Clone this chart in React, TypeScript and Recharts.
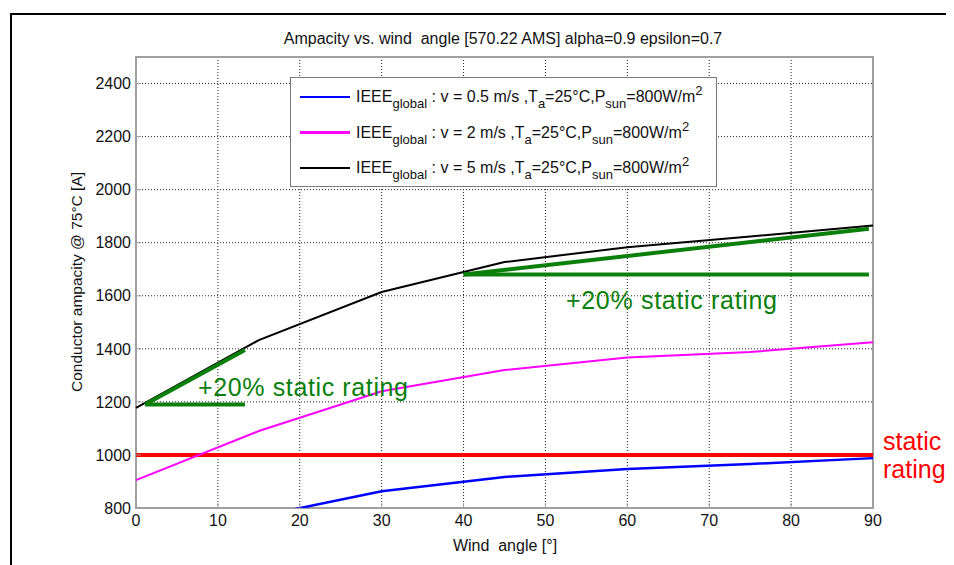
import React from 'react';
import {
  ComposedChart,
  Line,
  XAxis,
  YAxis,
  CartesianGrid,
  ReferenceLine,
  ReferenceArea,
} from 'recharts';

// ---- data ----
const windAngles = [0, 15, 30, 45, 60, 75, 90];
const ampacityV05 = [560, 768, 863, 917, 947, 966, 988];
const ampacityV2 = [905, 1090, 1240, 1320, 1367, 1388, 1425];
const ampacityV5 = [1177, 1433, 1614, 1727, 1783, 1823, 1865];
const staticRating = 1000;
const xTicks = [0, 10, 20, 30, 40, 50, 60, 70, 80, 90];
const yTicks = [800, 1000, 1200, 1400, 1600, 1800, 2000, 2200, 2400];
const leftMarker = { xStart: 1.1, xEnd: 13.3, base: 1190, top: 1396 };
const rightMarker = { xStart: 40, xEnd: 89.5, base: 1680, top: 1853 };

const titleText = 'Ampacity vs. wind  angle [570.22 AMS] alpha=0.9 epsilon=0.7';
const xLabel = 'Wind  angle [°]';
const yLabel = 'Conductor ampacity @ 75°C [A]';
const markerLabel = '+20% static rating';

const legendItems = [
  { color: '#0000ff', speed: '0.5' },
  { color: '#ff00ff', speed: '2' },
  { color: '#000000', speed: '5' },
];

const data = windAngles.map((angle, i) => ({
  angle,
  v05: ampacityV05[i],
  v2: ampacityV2[i],
  v5: ampacityV5[i],
}));

const FONT = '"Liberation Sans", Arial, Helvetica, sans-serif';
const FRAME = '#a0a0a0';
const GREEN = '#0a800a';

export default function App() {
  return (
    <div style={{ position: 'relative', width: 946, height: 557, fontFamily: FONT }}>
      <style>{'html,body{overflow:hidden;background:#fff}'}</style>
      <div style={{ position: 'absolute', left: 0, top: 0 }}>
        <ComposedChart
          width={946}
          height={557}
          data={data}
          margin={{ top: 49, right: 81, bottom: 27, left: 68 }}
        >
          <CartesianGrid stroke="#222" strokeDasharray="1 2" strokeWidth={1} />
          <XAxis
            dataKey="angle"
            type="number"
            domain={[0, 90]}
            ticks={xTicks}
            height={30}
            axisLine={false}
            tickSize={-5}
            tickMargin={12}
            tickLine={{ stroke: FRAME }}
            tick={{ fill: '#111', fontSize: 16, fontFamily: FONT }}
          />
          <XAxis
            xAxisId="top"
            orientation="top"
            dataKey="angle"
            type="number"
            domain={[0, 90]}
            ticks={xTicks}
            height={0}
            axisLine={false}
            tickSize={-5}
            tick={false}
            tickLine={{ stroke: FRAME }}
          />
          <YAxis
            type="number"
            domain={[800, 2500]}
            ticks={yTicks}
            allowDataOverflow
            width={60}
            axisLine={false}
            tickSize={-5}
            tickMargin={10}
            tickLine={{ stroke: FRAME }}
            tick={{ fill: '#111', fontSize: 16, fontFamily: FONT }}
          />
          <YAxis
            yAxisId="right"
            orientation="right"
            type="number"
            domain={[800, 2500]}
            ticks={yTicks}
            allowDataOverflow
            width={0}
            axisLine={false}
            tickSize={-5}
            tick={false}
            tickLine={{ stroke: FRAME }}
          />
          <ReferenceLine y={staticRating} stroke="#ff0000" strokeWidth={4} />
          <Line
            type="linear"
            dataKey="v05"
            stroke="#0000ff"
            strokeWidth={2.5}
            dot={false}
            isAnimationActive={false}
          />
          <Line
            type="linear"
            dataKey="v2"
            stroke="#ff00ff"
            strokeWidth={2}
            dot={false}
            isAnimationActive={false}
          />
          <Line
            type="linear"
            dataKey="v5"
            stroke="#000000"
            strokeWidth={2}
            dot={false}
            isAnimationActive={false}
          />
          <ReferenceLine
            segment={[
              { x: leftMarker.xStart, y: leftMarker.base },
              { x: leftMarker.xEnd, y: leftMarker.base },
            ]}
            stroke={GREEN}
            strokeWidth={4}
          />
          <ReferenceLine
            segment={[
              { x: leftMarker.xStart, y: leftMarker.base },
              { x: leftMarker.xEnd, y: leftMarker.top },
            ]}
            stroke={GREEN}
            strokeWidth={4}
          />
          <ReferenceLine
            segment={[
              { x: rightMarker.xStart, y: rightMarker.base },
              { x: rightMarker.xEnd, y: rightMarker.base },
            ]}
            stroke={GREEN}
            strokeWidth={4}
          />
          <ReferenceLine
            segment={[
              { x: rightMarker.xStart, y: rightMarker.base },
              { x: rightMarker.xEnd, y: rightMarker.top },
            ]}
            stroke={GREEN}
            strokeWidth={4}
          />
          <ReferenceArea
            x1={0}
            x2={90}
            y1={800}
            y2={2500}
            fill="none"
            fillOpacity={0}
            stroke={FRAME}
            strokeWidth={2}
          />
        </ComposedChart>
      </div>

      <svg
        width={946}
        height={557}
        style={{ position: 'absolute', left: 0, top: 0, pointerEvents: 'none' }}
      >
        <line x1={2} y1={6} x2={946} y2={6} stroke="#000" strokeWidth={2} />
        <line x1={3} y1={5} x2={3} y2={557} stroke="#000" strokeWidth={2} />
        <text
          x={495}
          y={36}
          textAnchor="middle"
          fontSize={16}
          fill="#111"
          style={{ whiteSpace: 'pre' }}
        >
          {titleText}
        </text>
        <text
          x={497}
          y={543}
          textAnchor="middle"
          fontSize={16}
          fill="#111"
          style={{ whiteSpace: 'pre' }}
        >
          {xLabel}
        </text>
        <text
          x={74}
          y={274}
          textAnchor="middle"
          fontSize={15.5}
          fill="#111"
          transform="rotate(-90 74 274)"
        >
          {yLabel}
        </text>
        <text x={190} y={388} fontSize={25} fill={GREEN} textLength={210} lengthAdjust="spacing">
          {markerLabel}
        </text>
        <text x={558} y={301} fontSize={25} fill={GREEN} textLength={211} lengthAdjust="spacing">
          {markerLabel}
        </text>
        <text x={875} y={442} fontSize={25} fill="#ff0000">
          static
        </text>
        <text x={875} y={470} fontSize={25} fill="#ff0000">
          rating
        </text>
      </svg>

      <div
        style={{
          position: 'absolute',
          left: 282,
          top: 69,
          width: 427,
          height: 110,
          border: '1px solid #777',
          background: '#fff',
          boxSizing: 'border-box',
        }}
      >
        {legendItems.map((item, i) => (
          <div
            key={i}
            style={{
              position: 'absolute',
              left: 9,
              top: 7 + i * 35.5,
              height: 24,
              display: 'flex',
              alignItems: 'center',
              whiteSpace: 'pre',
              fontSize: 16,
              color: '#111',
              lineHeight: 1,
            }}
          >
            <div style={{ width: 50, height: 2.5, background: item.color }} />
            <span style={{ marginLeft: 6 }}>
              IEEE
              <span style={{ fontSize: 13, position: 'relative', top: 6 }}>global</span>
              {` : v = ${item.speed} m/s ,T`}
              <span style={{ fontSize: 13, position: 'relative', top: 6 }}>a</span>
              {'=25°C,P'}
              <span style={{ fontSize: 13, position: 'relative', top: 6 }}>sun</span>
              {'=800W/m'}
              <span style={{ fontSize: 13, position: 'relative', top: -7 }}>2</span>
            </span>
          </div>
        ))}
      </div>
    </div>
  );
}
